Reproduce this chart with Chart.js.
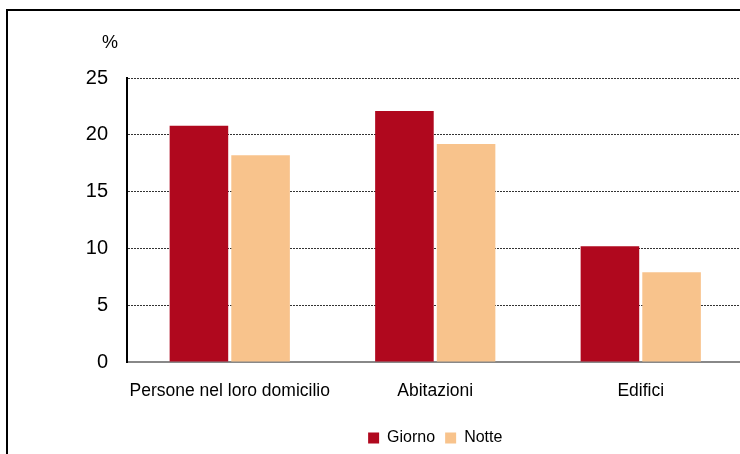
<!DOCTYPE html>
<html>
<head>
<meta charset="utf-8">
<script src="https://cdn.jsdelivr.net/npm/chart.js@4.4.1/dist/chart.umd.min.js"></script>
<style>
  html, body { margin: 0; padding: 0; background: #fff; }
  body { width: 740px; height: 454px; overflow: hidden; position: relative; }
  #frame { position: absolute; left: 6px; top: 9px; width: 800px; height: 500px;
           border-left: 2px solid #000; border-top: 2px solid #000; }
  #wrap { position: absolute; left: 0; top: 0; width: 760px; height: 454px; }
</style>
</head>
<body>
<div id="frame"></div>
<div id="wrap"><canvas id="chart"></canvas></div>
<script>
var categories = ['Persone nel loro domicilio', 'Abitazioni', 'Edifici'];
var giorno = [20.8, 22.1, 10.2];
var notte = [18.2, 19.2, 7.9];
var yTicks = [0, 5, 10, 15, 20, 25];
var unitLabel = '%';

var fontFamily = '"Liberation Sans", Arial, sans-serif';

// draws the "%" unit above the y axis
var unitPlugin = {
    id: 'unitLabel',
    afterDraw: function (chart) {
        var ctx = chart.ctx;
        var area = chart.chartArea;
        ctx.save();
        ctx.font = '18px ' + fontFamily;
        ctx.fillStyle = '#000';
        ctx.textAlign = 'center';
        ctx.textBaseline = 'middle';
        ctx.fillText(unitLabel, area.left - 17, area.top - 35);
        ctx.restore();
    }
};

var ctx = document.getElementById('chart').getContext('2d');
new Chart(ctx, {
    type: 'bar',
    data: {
        labels: categories,
        datasets: [{
            label: 'Giorno',
            data: giorno,
            backgroundColor: '#B0081E',
            borderWidth: 0
        }, {
            label: 'Notte',
            data: notte,
            backgroundColor: '#F8C38C',
            borderWidth: 0
        }]
    },
    options: {
        responsive: true,
        maintainAspectRatio: false,
        animation: false,
        layout: {
            padding: { left: 0, right: 16.5, top: 78, bottom: -2 }
        },
        datasets: {
            bar: { categoryPercentage: 0.6, barPercentage: 0.95 }
        },
        scales: {
            x: {
                grid: { display: false },
                border: { display: true, color: '#888', width: 2 },
                ticks: {
                    color: '#000',
                    padding: 11,
                    maxRotation: 0,
                    autoSkip: false,
                    font: { family: fontFamily, size: 17.5 }
                },
                afterFit: function (scale) { scale.height = 58; }
            },
            y: {
                min: 0,
                max: 25,
                afterBuildTicks: function (scale) {
                    scale.ticks = yTicks.map(function (v) { return { value: v }; });
                },
                grid: { color: '#333', lineWidth: 1, drawTicks: false },
                border: { display: true, color: '#000', width: 2, dash: [2, 1] },
                ticks: {
                    color: '#000',
                    padding: 19,
                    font: { family: fontFamily, size: 20 }
                },
                afterFit: function (scale) { scale.width = 127; }
            }
        },
        plugins: {
            tooltip: { enabled: false },
            legend: {
                position: 'bottom',
                fullSize: false,
                labels: {
                    color: '#000',
                    boxWidth: 11,
                    boxHeight: 11,
                    padding: 10,
                    font: { family: fontFamily, size: 16 }
                }
            }
        }
    },
    plugins: [unitPlugin]
});
</script>
</body>
</html>
